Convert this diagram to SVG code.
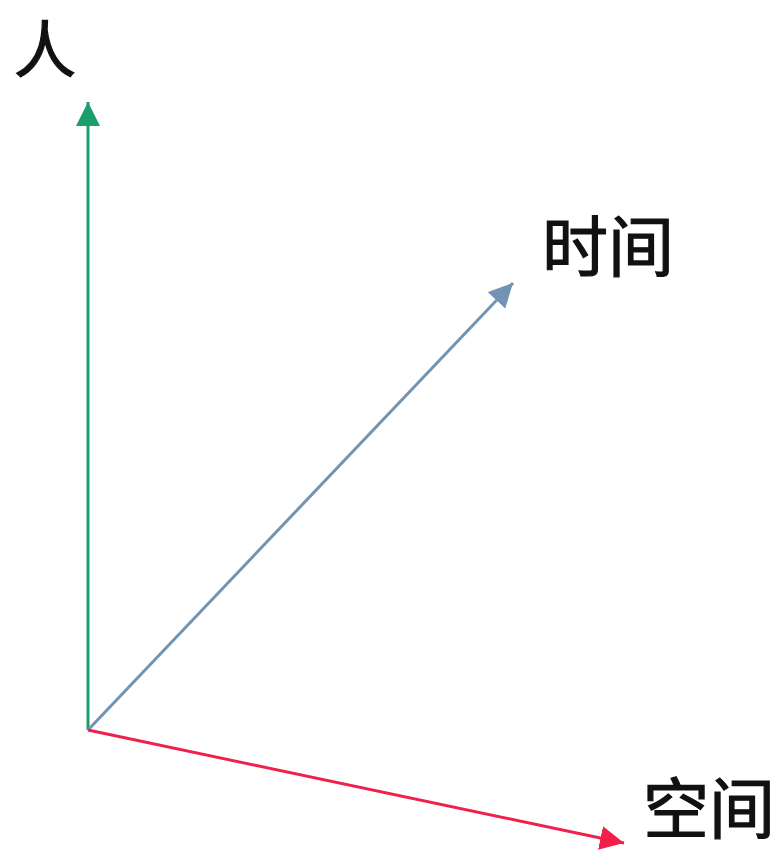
<svg xmlns="http://www.w3.org/2000/svg" width="783" height="852" viewBox="0 0 783 852">
<style>
.lbl{font-family:"Noto Sans CJK SC","Noto Sans CJK JP",sans-serif;fill:#111;stroke:#111;stroke-width:1.2;font-size:66px}
.ax{fill:none;stroke-width:3}
</style>
<defs>
<marker id="mg" viewBox="0 0 10 10" refX="10" refY="5" markerWidth="8" markerHeight="8" orient="auto" markerUnits="strokeWidth"><path d="M0,0 L10,5 L0,10 z" fill="#1a9e6a"/></marker>
<marker id="mb" viewBox="0 0 10 10" refX="10" refY="5" markerWidth="8" markerHeight="8" orient="auto" markerUnits="strokeWidth"><path d="M0,0 L10,5 L0,10 z" fill="#7393b3"/></marker>
<marker id="mr" viewBox="0 0 10 10" refX="10" refY="5" markerWidth="8" markerHeight="8" orient="auto" markerUnits="strokeWidth"><path d="M0,0 L10,5 L0,10 z" fill="#f0204a"/></marker>
</defs>
<rect width="783" height="852" fill="#fff"/>
<g id="connectors">
<line class="ax" x1="88" y1="730" x2="88" y2="102" stroke="#1a9e6a" marker-end="url(#mg)"/>
<line class="ax" x1="88" y1="730" x2="513" y2="283" stroke="#7393b3" marker-end="url(#mb)"/>
<line class="ax" x1="88" y1="730" x2="624" y2="843" stroke="#f0204a" marker-end="url(#mr)"/>
</g>
<g id="ren"><text class="lbl" x="14" y="73" style="font-size:62px">人</text></g>
<g id="shijian"><text class="lbl" x="542" y="271">时间</text></g>
<g id="kongjian"><text class="lbl" x="643" y="833">空间</text></g>
</svg>
